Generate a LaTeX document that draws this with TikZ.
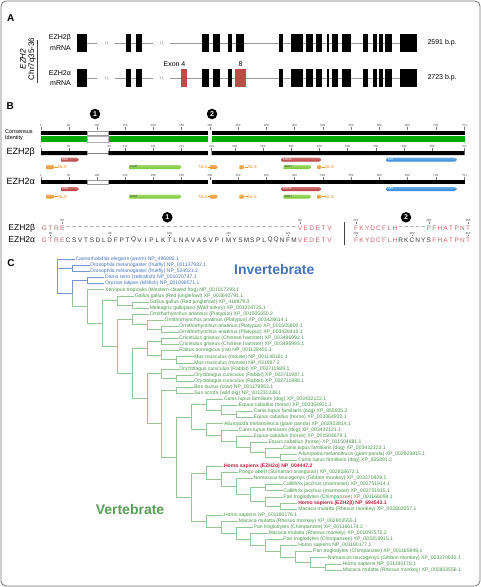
\documentclass[tikz,border=0pt]{standalone}
\usepackage{fontspec}
\setmainfont{Liberation Sans}
\usetikzlibrary{calc,positioning}

\definecolor{exred}{RGB}{190,75,70}
\definecolor{seqred}{RGB}{205,95,105}
\definecolor{idgreen}{RGB}{0,170,0}
\definecolor{eedred}{RGB}{185,55,55}
\definecolor{setblue}{RGB}{40,135,220}
\definecolor{santgreen}{RGB}{120,200,50}
\definecolor{nlsorange}{RGB}{235,145,35}
\definecolor{invblue}{RGB}{70,115,190}
\definecolor{vertgreen}{RGB}{70,150,70}
\definecolor{branchgreen}{RGB}{150,200,150}
\definecolor{branchblue}{RGB}{120,150,210}
\definecolor{hitred}{RGB}{190,30,60}

\newcommand\leaffont{\fontsize{5.1}{5.1}\selectfont}
\newcommand\tx[1]{57.7+14.85*#1}      % x of a tree level
\newcommand\cpos[1]{41+0.5647*(#1-1)} % x of a consensus residue
\newcommand\lx[1]{44.5+5.94*#1}       % x of a residue, left block
\newcommand\rx[1]{356+5.6*#1}         % x of a residue, right block

% feature arrow: name, x1, x2, y, colour, text
\newcommand\feat[6]{%
  \shade[top color=#5!70, bottom color=#5, rounded corners=0.7pt]
    (#2,#4-2) -- (#3-2.5,#4-2) -- (#3,#4) -- (#3-2.5,#4+2) -- (#2,#4+2) -- cycle;
  \node[feattext] (#1) at (#2+1,#4) {#6};}

% NLS arrow: name, x1, x2, y
\newcommand\nls[4]{%
  \shade[top color=nlsorange!70, bottom color=nlsorange, rounded corners=0.7pt]
    (#2,#4-2) -- (#3-2,#4-2) -- (#3,#4) -- (#3-2,#4+2) -- (#2,#4+2) -- cycle;
  \coordinate (#1-in) at (#2,#4);
  \coordinate (#1-out) at (#3,#4);}

\begin{document}
\begin{tikzpicture}[x=1pt, y=-1pt,
  panel/.style={font=\bfseries\fontsize{10}{10}\selectfont, inner sep=0pt},
  exon/.style={fill=black},
  altexon/.style={fill=exred},
  intron/.style={draw=black!40, line width=0.6pt},
  genelab/.style={font=\fontsize{7}{7}\selectfont, inner sep=0pt},
  marker/.style={circle, fill=black, text=white, inner sep=0pt, minimum size=10.5pt,
    font=\bfseries\fontsize{7}{7}\selectfont},
  rulenum/.style={font=\fontsize{3}{3}\selectfont, text=black!70, inner sep=0.3pt},
  tick/.style={draw=black!55, line width=0.3pt},
  protlab/.style={font=\fontsize{9}{9}\selectfont, inner sep=0pt, anchor=west},
  feattext/.style={font=\fontsize{2.8}{2.8}\selectfont, text=white, anchor=west, inner sep=0pt},
  nlstext/.style={font=\fontsize{4.5}{4.5}\selectfont, text=nlsorange, inner sep=0.3pt},
  nlsline/.style={draw=nlsorange, line width=0.3pt},
  seqch/.style={font=\fontsize{6.5}{6.5}\selectfont, inner sep=0pt},
  seqnum/.style={font=\fontsize{3}{3}\selectfont, text=black!75, inner sep=0.3pt},
  branch/.style={line width=0.6pt},
  leaf/.style={anchor=west, inner sep=0.6pt, font=\leaffont},
  inv/.style={draw=branchblue, text=invblue},
  vert/.style={draw=branchgreen, text=vertgreen},
  hit/.style={draw=branchgreen, text=hitred, font=\leaffont\bfseries},
]
\useasboundingbox (0,0) rectangle (481,587);
\draw[black!55, line width=0.8pt, rounded corners=5pt] (1,1) rectangle (480,586);

% ================= A: gene structure =================
\node[panel] (pA) at (10.8,18.3) {A};
\node[font=\fontsize{8}{8.5}\selectfont, inner sep=0pt, rotate=90, align=center] (chr) at (28,59) {\textit{EZH2}\\Chr7q35-36};
\draw[black!75, line width=1.2pt] (37.3,40) -- (37.3,83.3);
\node[genelab, anchor=east] (bmrna1) at (71,37.5) {EZH2β};
\node[genelab, anchor=east] (bmrna2) at (71,48.5) {mRNA};
\node[genelab, anchor=east] (amrna1) at (71,73) {EZH2α};
\node[genelab, anchor=east] (amrna2) at (71,83) {mRNA};

\foreach \y in {43,78} {
  \draw[intron] (87,\y) -- (97,\y) (115,\y) -- (153,\y) (170,\y) -- (400,\y);
  \foreach \bx in {105,160} {
    \draw[black!40, line width=0.4pt] (\bx,\y-1.6) -- (\bx+1.2,\y+1.6)
      (\bx+2,\y-1.6) -- (\bx+3.2,\y+1.6);
  }
}
\foreach \a/\b in {77/87,126/131,136/142,202/209,212.7/220,227.7/232.3,279/283.3,
  291/303.3,306/313.3,316/321.7,327.3/329.3,331.7/338.3,341.7/351,363.3/367.7,
  372.7/376.7,379.3/383.3,385.3/391.7,400/417} {
  \fill[exon] (\a,34) rectangle (\b,52);
  \fill[exon] (\a,69) rectangle (\b,87);
}
\fill[exon] (236,34) rectangle (244.3,52);
\fill[altexon] (181,69) rectangle (187.3,87);
\fill[altexon] (235.3,69) rectangle (245.7,87);
\node[genelab] (ex4) at (174.5,64.3) {Exon 4};
\node[genelab] (ex8) at (240.5,64.3) {8};
\node[genelab, anchor=west] (lenb) at (427.3,43) {2591 b.p.};
\node[genelab, anchor=west] (lena) at (427.3,78) {2723 b.p.};

% ================= B: protein domains =================
\node[panel] (pB) at (10.3,106) {B};
\node[marker] (m1) at (95,114) {1};
\node[marker] (m2) at (212,114) {2};

\node[font=\fontsize{5.5}{5.5}\selectfont, anchor=west, inner sep=0pt] (cons) at (5,132) {Consensus};
\node[font=\fontsize{5.5}{5.5}\selectfont, anchor=west, inner sep=0pt] (ident) at (5,138.5) {Identity};
\node[protlab] (pbeta) at (6.5,152.5) {EZH2β};
\node[protlab] (palpha) at (6.5,181.5) {EZH2α};

% rulers
\foreach \n in {1,50,100,150,...,700,751} {
  \node[rulenum] (cr\n) at ({\cpos{\n}},125.6) {\n};
  \draw[tick] ({\cpos{\n}},127.2) -- ({\cpos{\n}},130.4);
  \node[rulenum] (ar\n) at ({\cpos{\n}},175.4) {\n};
  \draw[tick] ({\cpos{\n}},177) -- ({\cpos{\n}},180);
}
\foreach \n/\c in {1/1,50/50,83/122,111/150,161/200,211/250,259/303,300/344,350/394,
  400/444,450/494,500/544,550/594,600/644,650/694,707/751} {
  \node[rulenum] (br\n) at ({\cpos{\c}},146.2) {\n};
  \draw[tick] ({\cpos{\c}},147.8) -- ({\cpos{\c}},151);
}

% consensus and identity
\fill[black] (41,130.7) rectangle (464.5,134.7);
\filldraw[fill=white, draw=black!40, line width=0.3pt] (87.3,130.7) rectangle (108.4,134.7);
\fill[white] (207.8,130.5) rectangle (211.5,134.9);
\fill[idgreen] (41,136.3) rectangle (464.5,141.8);
\filldraw[fill=white, draw=black!30, line width=0.3pt] (87.3,136.3) rectangle (108.4,141.8);
\fill[white] (207.8,136.1) rectangle (211.5,142);

% EZH2 beta bar
\fill[black] (41,151) rectangle (87.3,155) (108.4,151) rectangle (207.8,155)
  (211.5,151) rectangle (464.5,155);
\draw[black!50, line width=0.4pt] (87.3,153) -- (108.4,153);
% EZH2 alpha bar
\fill[black] (41,180) rectangle (464.5,184.3);
\filldraw[fill=white, draw=black!40, line width=0.3pt] (87.3,180) rectangle (108.4,184.3);
\fill[white] (207.8,179.8) rectangle (211.5,184.5);

% domains, both isoforms
\foreach \r/\ya/\yb in {b/159.7/167, a/189/196.5} {
  \feat{\r eed}{61}{79.3}{\ya}{eedred}{EED}
  \feat{\r suz}{281.7}{321.7}{\ya}{eedred}{SUZ12}
  \feat{\r set}{386.7}{457.3}{\ya}{setblue}{SET}
  \feat{\r santa}{129}{182}{\yb}{santgreen}{\textcolor{black!80}{SANT}}
  \feat{\r santb}{283.3}{311.7}{\yb}{santgreen}{\textcolor{black!80}{SANT}}
  \nls{\r nlsa}{46}{55}{\yb}
  \nls{\r nlsb}{210}{218}{\yb}
  \nls{\r nlsc}{239.3}{245}{\yb}
  \nls{\r nlsd}{317.3}{322}{\yb}
  \node[nlstext, anchor=west] (\r nlsa-t) at (57.5,\yb) {NLS};
  \node[nlstext, anchor=east] (\r nlsb-t) at (207.8,\yb) {NLS};
  \node[nlstext, anchor=west] (\r nlsc-t) at (247.5,\yb) {NLS};
  \node[nlstext, anchor=west] (\r nlsd-t) at (324.5,\yb) {NLS};
  \draw[nlsline] (\r nlsa-out) -- (\r nlsa-t.west);
  \draw[nlsline] (\r nlsb-t.east) -- (\r nlsb-in);
  \draw[nlsline] (\r nlsc-out) -- (\r nlsc-t.west);
  \draw[nlsline] (\r nlsd-out) -- (\r nlsd-t.west);
}

% ---- alignment of the two splice regions ----
\node[marker] (m1s) at (167.3,217.3) {1};
\node[marker] (m2s) at (406,217.3) {2};
\node[protlab, font=\fontsize{8.5}{8.5}\selectfont] (sbeta) at (8.3,228) {EZH2β};
\node[protlab, font=\fontsize{8.5}{8.5}\selectfont] (salpha) at (8.3,240) {EZH2α};

\foreach \ch [count=\k from 0] in {G,T,R,E} {
  \node[seqch, text=seqred] (bL\k) at ({\lx{\k}},228) {\ch};
  \node[seqch, text=seqred] (aL\k) at ({\lx{\k}},240) {\ch};
}
\foreach \k in {4,...,42}
  \node[seqch, text=black!70] (bL\k) at ({\lx{\k}},228) {\textendash};
\foreach \ch [count=\k from 4] in {C,S,V,T,S,D,L,D,F,P,T,Q,V,I,P,L,K,T,L,N,A,V,A,S,V,P,I,M,Y,S,M,S,P,L,Q,Q,N,F,M}
  \node[seqch, text=black!80] (aL\k) at ({\lx{\k}},240) {\ch};
\foreach \ch [count=\k from 43] in {V,E,D,E,T,V} {
  \node[seqch, text=seqred] (bL\k) at ({\lx{\k}},228) {\ch};
  \node[seqch, text=seqred] (aL\k) at ({\lx{\k}},240) {\ch};
}
\foreach \n/\k in {82/3,83/43} {
  \node[seqnum] (bn\n) at ({\lx{\k}},220.3) {\n};
  \draw[tick] ({\lx{\k}},221.8) -- ({\lx{\k}},223.6);
}
\foreach \n/\k in {80/1,90/11,100/21,110/31,120/41} {
  \node[seqnum] (an\n) at ({\lx{\k}},233.2) {\n};
  \draw[tick] ({\lx{\k}},234.7) -- ({\lx{\k}},236.2);
}

\draw[black!75, line width=1pt] (344,222) -- (344,245);

\foreach \ch [count=\k from 0] in {F,K,Y,D,C,F,L,H} {
  \node[seqch, text=seqred] (bR\k) at ({\rx{\k}},228) {\ch};
  \node[seqch, text=seqred] (aR\k) at ({\rx{\k}},240) {\ch};
}
\foreach \k in {8,...,12}
  \node[seqch, text=black!70] (bR\k) at ({\rx{\k}},228) {\textendash};
\foreach \ch [count=\k from 8] in {R,K,C,N,Y,S}
  \node[seqch, text=black!80] (aR\k) at ({\rx{\k}},240) {\ch};
\node[seqch, text=seqred] (bR13) at ({\rx{13}},228) {P};
\foreach \ch [count=\k from 14] in {F,H,A,T,P,N,T} {
  \node[seqch, text=seqred] (bR\k) at ({\rx{\k}},228) {\ch};
  \node[seqch, text=seqred] (aR\k) at ({\rx{\k}},240) {\ch};
}
\foreach \n/\k in {251/0,259/13,266/20} {
  \node[seqnum] (bn\n) at ({\rx{\k}},220.3) {\n};
  \draw[tick] ({\rx{\k}},221.8) -- ({\rx{\k}},223.6);
}
\foreach \n/\k in {290/0,300/10,310/20} {
  \node[seqnum] (an\n) at ({\rx{\k}},233.2) {\n};
  \draw[tick] ({\rx{\k}},234.7) -- ({\rx{\k}},236.2);
}

% ================= C: tree =================
\node[panel] (pC) at (11,263) {C};
\node[font=\bfseries\fontsize{14}{14}\selectfont, text=invblue, inner sep=0pt] (invlab) at (274.3,269) {Invertebrate};
\node[font=\bfseries\fontsize{14}{14}\selectfont, text=vertgreen!90, inner sep=0pt] (vertlab) at (130,509.5) {Vertebrate};

% inner nodes: name/level/y
\foreach \n/\de/\y in {r/0/276.46, nD/1/268.44, n1/1/293.61, n2f/2/280.62, n2/2/306.60,
  n3/3/323.44, n4g/4/300.41, n5g/5/304.98, n4m/4/346.46, n5o/5/319.44, n6o/6/324.77,
  n7o/7/329.34, n5e/5/373.48, n6r/6/348.37, n7c/7/341.52, n7m/7/355.22, n8m/8/359.79,
  n6L/6/398.59, n7r/7/373.49, n8r/8/378.06, n7L/7/423.69, n8b/8/390.24, n8L/8/457.14,
  n9c/9/417.22, n10c/10/404.70, n11c/11/410.03, n12c/12/414.60, n10d/10/429.73,
  n11d/11/435.72, n12d/12/441.62, n13d/13/447.33, n14d/14/452.66, n15d/15/457.23,
  n9p/9/497.05, n10a/10/472.93, n11a/11/479.50, n12a/12/486.54, n13a/13/494.53,
  n14c/14/487.68, n14p/14/501.38, n15a/15/505.95, n10b/10/521.16, n11b/11/527.24,
  n12b/12/533.30, n13b/13/539.35, n14b/14/545.34, n15b/15/551.24, n16b/16/556.95,
  n17b/17/562.28, n18b/18/566.85}
  \coordinate (\n) at ({\tx{\de}},\y);

\foreach \a/\b in {r/nD, r/n1, n1/n2f}
  \draw[branch, draw=branchblue] (\a) |- (\b);
\foreach \a/\b in {n1/n2, n2/n3, n3/n4g, n3/n4m, n4g/n5g, n4m/n5o, n4m/n5e, n5o/n6o,
  n6o/n7o, n5e/n6r, n5e/n6L, n6r/n7c, n6r/n7m, n7m/n8m, n6L/n7r, n6L/n7L, n7r/n8r,
  n7L/n8b, n7L/n8L, n8L/n9c, n8L/n9p, n9c/n10c, n9c/n10d, n10c/n11c, n11c/n12c,
  n10d/n11d, n11d/n12d, n12d/n13d, n13d/n14d, n14d/n15d, n9p/n10a, n9p/n10b,
  n10a/n11a, n11a/n12a, n12a/n13a, n13a/n14c, n13a/n14p, n14p/n15a, n10b/n11b,
  n11b/n12b, n12b/n13b, n13b/n14b, n14b/n15b, n15b/n16b, n16b/n17b, n17b/n18b}
  \draw[branch, draw=branchgreen] (\a) |- (\b);

% leaves: index/parent/level/style/label
\foreach \i/\pa/\de/\st/\lab in {
  1/r/0/inv/Caenorhabditis elegans (worm) NP\_496992.1,
  2/nD/1/inv/Drosophila melanogaster (fruitfly) NP\_001137932.1,
  3/nD/1/inv/Drosophila melanogaster (fruitfly) NP\_524021.2,
  4/n2f/2/inv/Danio rerio (zebrafish) NP\_001070747.1,
  5/n2f/2/inv/Oryzias latipes (killifish) NP\_001098571.1,
  6/n2/2/vert/Xenopus tropicalis (Western clawed frog) NP\_001017293.1,
  7/n4g/4/vert/Gallus gallus (Red junglefowl) XP\_003640791.1,
  8/n5g/5/vert/Gallus gallus (Red junglefowl) XP\_418879.3,
  9/n5g/5/vert/Meleagris gallopavo (Wild turkey) XP\_003204725.1,
  10/n5o/5/vert/Ornithorhynchus anatinus (Platypus) XP\_001505650.2,
  11/n6o/6/vert/Ornithorhynchus anatinus (Platypus) XP\_003428614.1,
  12/n7o/7/vert/Ornithorhynchus anatinus (Platypus) XP\_001505800.1,
  13/n7o/7/vert/Ornithorhynchus anatinus (Platypus) XP\_003428415.1,
  14/n7c/7/vert/Cricetulus griseus (Chinese hamster) XP\_003496992.1,
  15/n7c/7/vert/Cricetulus griseus (Chinese hamster) XP\_003496993.1,
  16/n7m/7/vert/Rattus norvegicus (rat) NP\_001128451.1,
  17/n8m/8/vert/Mus musculus (mouse) NP\_001140161.1,
  18/n8m/8/vert/Mus musculus (mouse) NP\_031997.2,
  19/n7r/7/vert/Oryctolagus cuniculus (Rabbit) XP\_002711989.1,
  20/n8r/8/vert/Oryctolagus cuniculus (Rabbit) XP\_002711987.1,
  21/n8r/8/vert/Oryctolagus cuniculus (Rabbit) XP\_002711988.1,
  22/n8b/8/vert/Bos taurus (cow) NP\_001179953.1,
  23/n8b/8/vert/Sus scrofa (wild pig) NP\_001231238.1,
  24/n10c/10/vert/Canis lupus familiaris (dog) XP\_003432122.1,
  25/n11c/11/vert/Equus caballus (horse) XP\_003364921.1,
  26/n12c/12/vert/Canis lupus familiaris (dog) XP\_855935.2,
  27/n12c/12/vert/Equus caballus (horse) XP\_003364922.1,
  28/n10d/10/vert/Ailuropoda melanoleuca (giant panda) XP\_002923814.1,
  29/n11d/11/vert/Canis lupus familiaris (dog) XP\_003432121.1,
  30/n12d/12/vert/Equus caballus (horse) XP\_001504679.1,
  31/n13d/13/vert/Equus caballus (horse) XP\_001504681.1,
  32/n14d/14/vert/Canis lupus familiaris (dog) XP\_003432123.1,
  33/n15d/15/vert/Ailuropoda melanoleuca (giant panda) XP\_002923815.1,
  34/n15d/15/vert/Canis lupus familiaris (dog) XP\_855891.2,
  35/n10a/10/hit/Homo sapiens (EZH2α) NP\_004447.2,
  36/n11a/11/vert/Pongo abelii (Sumatran orangutan) XP\_002818672.1,
  37/n12a/12/vert/Nomascus leucogenys (Gibbon monkey) XP\_003270929.1,
  38/n14c/14/vert/Callithrix jacchus (marmoset) XP\_002751914.1,
  39/n14c/14/vert/Callithrix jacchus (marmoset) XP\_002751915.1,
  40/n14p/14/vert/Pan troglodytes (Chimpanzee) XP\_001166099.1,
  41/n15a/15/hit/Homo sapiens (EZH2β) NP\_694543.1,
  42/n15a/15/vert/Macaca mulatta (Rhesus monkey) XP\_002803557.1,
  43/n10b/10/vert/Homo sapiens NP\_001190176.1,
  44/n11b/11/vert/Macaca mulatta (Rhesus monkey) XP\_002803555.1,
  45/n12b/12/vert/Pan troglodytes (Chimpanzee) XP\_001166174.2,
  46/n13b/13/vert/Macaca mulatta (Rhesus monkey) XP\_001097572.2,
  47/n14b/14/vert/Pan troglodytes (Chimpanzee) XP\_003318915.1,
  48/n15b/15/vert/Homo sapiens NP\_001190177.1,
  49/n16b/16/vert/Pan troglodytes (Chimpanzee) XP\_001165949.1,
  50/n17b/17/vert/Nomascus leucogenys (Gibbon monkey) XP\_003270930.1,
  51/n18b/18/vert/Homo sapiens NP\_001190178.1,
  52/n18b/18/vert/Macaca mulatta (Rhesus monkey) XP\_002803556.1} {
  \node[leaf, \st, draw=none] (t\i) at ({\tx{\de}+17},{259.3+6.09*(\i-1)}) {\lab};
  \draw[branch, \st] (\pa) |- (t\i.west);
}

\end{tikzpicture}
\end{document}
